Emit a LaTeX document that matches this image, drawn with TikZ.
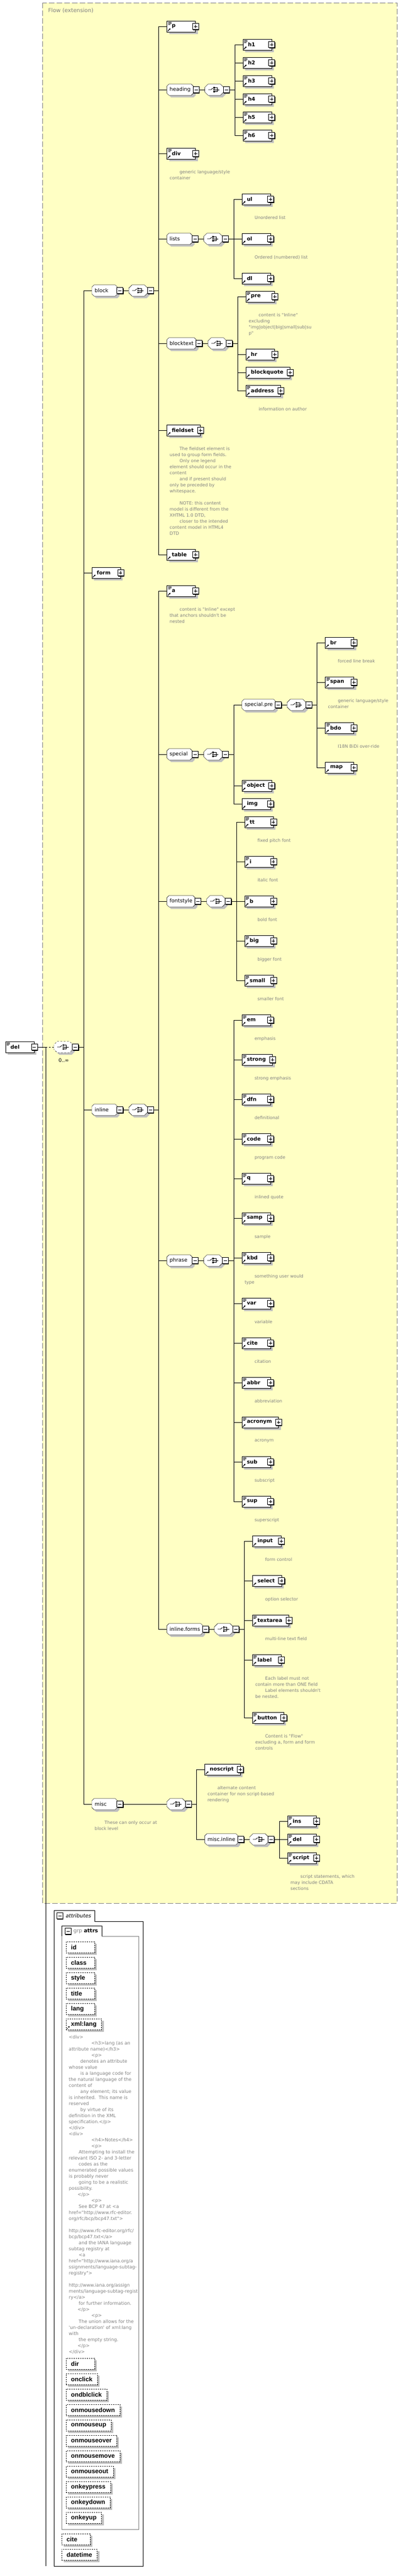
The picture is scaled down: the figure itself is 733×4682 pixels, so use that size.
\documentclass[tikz,border=0pt]{standalone}
\usepackage{fontspec}
\usetikzlibrary{positioning,shadows,arrows.meta}
\newfontfamily\vfont{DejaVu Sans}
\newfontfamily\afont{Liberation Sans}
\definecolor{flowbg}{RGB}{255,255,196}
\definecolor{shadowgray}{RGB}{192,192,192}
\definecolor{notegray}{RGB}{128,128,128}
\pgfdeclarelayer{frame}
\pgfdeclarelayer{octs}
\pgfsetlayers{frame,octs,main}

% text with a minimum width, set flush left
\newcommand\etext[2]{\setbox0\hbox{#2}\ifdim\wd0<#1\hbox to #1{\box0\hfil}\else\box0\fi}
% small icons inside element boxes
\newcommand\refpic{\draw[-{Triangle[length=2.5pt,width=3pt]},line width=1.1pt] ([shift={(1.5pt,1.5pt)}]path picture bounding box.south west) -- ++(5pt,5pt);}
\newcommand\mixpic{\draw[line width=0.7pt] ([shift={(2pt,-2.5pt)}]path picture bounding box.north west) -- ++(6pt,0pt) ++(-6pt,-2pt) -- ++(6pt,0pt) ++(-6pt,-2pt) -- ++(4pt,0pt);}
% octagon round a node: node, dx, dy, cut
\newcommand\octpath[4]{([shift={({#2+#4},{#3})}]#1.north west) -- ([shift={({#2-#4},{#3})}]#1.north east) -- ([shift={({#2},{#3-#4})}]#1.north east) -- ([shift={({#2},{#3+#4})}]#1.south east) -- ([shift={({#2-#4},{#3})}]#1.south east) -- ([shift={({#2+#4},{#3})}]#1.south west) -- ([shift={({#2},{#3+#4})}]#1.south west) -- ([shift={({#2},{#3-#4})}]#1.north west) -- cycle}
% choice symbol
\newcommand\chicon[1]{%
  \draw[line width=0.8pt] ([xshift=-11pt]#1.center) -- ([xshift=-6pt]#1.center) -- ([shift={(-2.5pt,3pt)}]#1.center);
  \foreach \d in {-4.75pt,-1.25pt,2.25pt}{\fill ([shift={(-1.5pt,\d)}]#1.center) rectangle ++(2.5pt,2.5pt);}
  \draw[line width=0.8pt] ([shift={(1pt,3.5pt)}]#1.center) -- ++(4.5pt,0pt) -- ++(0pt,-7pt) -- ++(-4.5pt,0pt) ([shift={(1pt,0pt)}]#1.center) -- ++(8.5pt,0pt);
}
% element: options, name, parent bus, y, label
\newcommand\elm[5][]{%
  \node[elem,#1,xshift=15pt] (#2) at (#3|-0,#4) {\kern9pt\etext{31pt}{#5}\kern12pt};
  \node[pbox] (#2-pm) at (#2.east) {};
  \draw (#3|-#2) -- (#2);
}
% group with its choice: gap, name, parent bus, y, label
\newcommand\grp[5][10pt]{%
  \node[grpnode,xshift=15pt] (#2) at (#3|-0,#4) {\etext{36pt}{#5}};
  \begin{pgfonlayer}{octs}
    \fill[shadowgray] \octpath{#2}{4pt}{-4pt}{4pt};
    \filldraw[fill=white] \octpath{#2}{0pt}{0pt}{4pt};
  \end{pgfonlayer}
  \node[mbox,anchor=west] (#2-pm) at ([xshift=-1pt]#2.east) {};
  \node[chnode,right=#1 of #2-pm] (#2-c) {};
  \begin{pgfonlayer}{octs}
    \fill[shadowgray] \octpath{#2-c}{4pt}{-4pt}{6pt};
    \filldraw[fill=white] \octpath{#2-c}{0pt}{0pt}{6pt};
  \end{pgfonlayer}
  \chicon{#2-c}
  \node[mbox,anchor=west] (#2-cm) at ([xshift=-1pt]#2-c.east) {};
  \coordinate (#2-bus) at ([xshift=9pt]#2-cm.east);
  \draw (#3|-#2) -- (#2);
  \draw (#2-pm) -- (#2-c) (#2-cm) -- (#2-bus);
}
% annotation under a node
\newcommand\anno[2]{\node[annot,below right=30.3pt and 5pt of #1.west] (#1-note) {#2};}

\tikzset{
  elem/.style={draw,fill=white,anchor=west,minimum height=20pt,inner sep=0pt,
    font=\vfont\bfseries\fontsize{9.4}{11}\selectfont,
    general shadow={fill=shadowgray,shadow xshift=4pt,shadow yshift=-4pt},
    path picture={\refpic}},
  mixed/.style={path picture={\refpic\mixpic}},
  rootel/.style={path picture={\mixpic}},
  pmbox/.style={draw,fill=white,minimum size=11pt,inner sep=0pt,line width=0.8pt,
    general shadow={fill=black,shadow xshift=1pt,shadow yshift=-1pt}},
  pbox/.style={pmbox,path picture={\draw[line width=0.8pt] ([xshift=2.5pt]path picture bounding box.west) -- ([xshift=-2.5pt]path picture bounding box.east) ([yshift=-2.5pt]path picture bounding box.north) -- ([yshift=2.5pt]path picture bounding box.south);}},
  mbox/.style={pmbox,path picture={\draw[line width=0.8pt] ([xshift=2.5pt]path picture bounding box.west) -- ([xshift=-2.5pt]path picture bounding box.east);}},
  grpnode/.style={anchor=west,minimum height=20pt,inner xsep=5pt,inner ysep=0pt,
    font=\vfont\fontsize{9.4}{11}\selectfont},
  chnode/.style={anchor=west,minimum height=20pt,minimum width=34pt,inner sep=0pt},
  annot/.style={align=left,inner sep=0pt,text=notegray,font=\vfont\fontsize{8}{11}\selectfont},
  doc/.style={annot,font=\vfont\fontsize{8.3}{11}\selectfont},
  attr/.style={draw,dash pattern=on 2pt off 2pt,fill=white,anchor=north west,minimum height=20pt,
    inner sep=0pt,font=\afont\bfseries\fontsize{11.3}{13}\selectfont,
    general shadow={fill=shadowgray,shadow xshift=4pt,shadow yshift=-4pt}},
}

\begin{document}
\begin{tikzpicture}[x=1pt,y=-1pt,line width=1pt]
\useasboundingbox (0,0) rectangle (733,4682);
\begin{pgfonlayer}{frame}
  \draw[notegray,fill=flowbg,dash pattern=on 10pt off 4pt] (77,5) rectangle (722,3459);
\end{pgfonlayer}
\node[anchor=west,text=notegray,font=\vfont\fontsize{10}{12}\selectfont] (flow-title) at (84,19) {Flow (extension)};

% root element
\node[elem,rootel] (del) at (10,1903) {\kern9pt\etext{31pt}{del}\kern12pt};
\node[mbox] (del-pm) at (del.east) {};
\coordinate (del-jn) at (83,1903);
\coordinate (attr-foot) at (83,4664);
\node[chnode] (del-c) at (98,1903) {};
\begin{pgfonlayer}{octs}
  \fill[shadowgray] \octpath{del-c}{4pt}{-4pt}{6pt};
  \filldraw[fill=white,dashed] \octpath{del-c}{0pt}{0pt}{6pt};
\end{pgfonlayer}
\chicon{del-c}
\node[mbox,anchor=west] (del-cm) at ([xshift=-1pt]del-c.east) {};
\node[font=\vfont\fontsize{9}{11}\selectfont] (del-occ) at (116,1927) {0..∞};
\coordinate (root-bus) at (152,1903);
\draw (del-pm) -- (del-jn) -- (attr-foot);
\draw[dashed] (del-jn) -- (del-c);
\draw (del-cm) -- (root-bus);

% level 1
\grp{block}{root-bus}{528}{block}
\elm{form}{root-bus}{1041}{form}
\grp{inline}{root-bus}{2017}{inline}
\grp[79pt]{misc}{root-bus}{3279}{misc}
\anno{misc}{\hspace*{18pt}These can only occur at\\block level}
\draw (root-bus|-block) -- (root-bus|-misc);

% block
\elm[mixed]{p}{block-bus}{48}{p}
\grp{heading}{block-bus}{163}{heading}
\foreach \k/\y in {1/81,2/114,3/147,4/180,5/213,6/246}
  {\elm[mixed]{h\k}{heading-bus}{\y}{h\k}}
\draw (heading-bus|-h1) -- (heading-bus|-h6);
\elm[mixed]{div}{block-bus}{279}{div}
\anno{div}{\hspace*{18pt}generic language/style\\container}
\grp{lists}{block-bus}{434}{lists}
\elm{ul}{lists-bus}{362}{ul}
\anno{ul}{\hspace*{18pt}Unordered list}
\elm{ol}{lists-bus}{434}{ol}
\anno{ol}{\hspace*{18pt}Ordered (numbered) list}
\elm{dl}{lists-bus}{506}{dl}
\draw (lists-bus|-ul) -- (lists-bus|-dl);
\grp{blocktext}{block-bus}{624}{blocktext}
\elm[mixed]{pre}{blocktext-bus}{539}{pre}
\anno{pre}{\hspace*{18pt}content is "Inline"\\excluding\\"img|object|big|small|sub|su\\p"}
\elm{hr}{blocktext-bus}{644}{hr}
\elm{blockquote}{blocktext-bus}{677}{blockquote}
\elm[mixed]{address}{blocktext-bus}{710}{address}
\anno{address}{\hspace*{18pt}information on author}
\draw (blocktext-bus|-pre) -- (blocktext-bus|-address);
\elm{fieldset}{block-bus}{782}{fieldset}
\anno{fieldset}{\hspace*{18pt}The fieldset element is\\used to group form fields.\\
  \hspace*{18pt}Only one legend\\element should occur in the\\content\\
  \hspace*{18pt}and if present should\\only be preceded by\\whitespace.\\\mbox{}\\
  \hspace*{18pt}NOTE: this content\\model is different from the\\XHTML 1.0 DTD,\\
  \hspace*{18pt}closer to the intended\\content model in HTML4\\DTD}
\elm{table}{block-bus}{1008}{table}
\draw (block-bus|-p) -- (block-bus|-table);

% inline
\elm[mixed]{a}{inline-bus}{1074}{a}
\anno{a}{\hspace*{18pt}content is "Inline" except\\that anchors shouldn't be\\nested}
\grp{special}{inline-bus}{1371}{special}
\grp{specialpre}{special-bus}{1281}{special.pre}
\elm{br}{specialpre-bus}{1168}{br}
\anno{br}{\hspace*{18pt}forced line break}
\elm[mixed]{span}{specialpre-bus}{1240}{span}
\anno{span}{\hspace*{18pt}generic language/style\\container}
\elm[mixed]{bdo}{specialpre-bus}{1323}{bdo}
\anno{bdo}{\hspace*{18pt}I18N BiDi over-ride}
\elm{map}{specialpre-bus}{1395}{map}
\draw (specialpre-bus|-br) -- (specialpre-bus|-map);
\elm[mixed]{object}{special-bus}{1428}{object}
\elm{img}{special-bus}{1461}{img}
\draw (special-bus|-specialpre) -- (special-bus|-img);
\grp{fontstyle}{inline-bus}{1638}{fontstyle}
\foreach \n/\y/\txt in {tt/1494/fixed pitch font,i/1566/italic font,b/1638/bold font,big/1710/bigger font,small/1782/smaller font}
  {\elm[mixed]{\n}{fontstyle-bus}{\y}{\n}\anno{\n}{\hspace*{18pt}\txt}}
\draw (fontstyle-bus|-tt) -- (fontstyle-bus|-small);
\grp{phrase}{inline-bus}{2291}{phrase}
\foreach \n/\y/\txt in {em/1854/emphasis,strong/1926/strong emphasis,dfn/1998/definitional,code/2070/program code,q/2142/inlined quote,samp/2214/sample,kbd/2286/{something user would\\type},var/2369/variable,cite/2441/citation,abbr/2513/abbreviation,acronym/2585/acronym,sub/2657/subscript,sup/2729/superscript}
  {\elm[mixed]{\n}{phrase-bus}{\y}{\n}\anno{\n}{\hspace*{18pt}\txt}}
\draw (phrase-bus|-em) -- (phrase-bus|-sup);
\grp{iforms}{inline-bus}{2961}{inline.forms}
\elm{input}{iforms-bus}{2801}{input}
\anno{input}{\hspace*{18pt}form control}
\elm{select}{iforms-bus}{2873}{select}
\anno{select}{\hspace*{18pt}option selector}
\elm[mixed]{textarea}{iforms-bus}{2945}{textarea}
\anno{textarea}{\hspace*{18pt}multi-line text field}
\elm[mixed]{label}{iforms-bus}{3017}{label}
\anno{label}{\hspace*{18pt}Each label must not\\contain more than ONE field\\\hspace*{18pt}Label elements shouldn't\\be nested.}
\elm[mixed]{button}{iforms-bus}{3122}{button}
\anno{button}{\hspace*{18pt}Content is "Flow"\\excluding a, form and form\\controls}
\draw (iforms-bus|-input) -- (iforms-bus|-button);
\draw (inline-bus|-a) -- (inline-bus|-iforms);

% misc
\elm{noscript}{misc-bus}{3216}{noscript}
\anno{noscript}{\hspace*{18pt}alternate content\\container for non script-based\\rendering}
\grp{miscinline}{misc-bus}{3343}{misc.inline}
\elm[mixed]{ins}{miscinline-bus}{3310}{ins}
\elm[mixed]{mi-del}{miscinline-bus}{3343}{del}
\elm[mixed]{script}{miscinline-bus}{3377}{script}
\anno{script}{\hspace*{18pt}script statements, which\\may include CDATA\\sections}
\draw (miscinline-bus|-ins) -- (miscinline-bus|-script);
\draw (misc-bus|-noscript) -- (misc-bus|-miscinline);

% attributes
\draw (98,4664) -- (98,3472) -- (172,3472) -- (172,3492) -- (260,3492) -- (260,4664) -- cycle;
\node[mbox] (attrs-m) at (108.5,3482) {};
\node[anchor=west,font=\vfont\itshape\fontsize{9.5}{11}\selectfont] (attrs-t) at (116,3482) {attributes};
\draw[notegray] (185,3519) -- (252,3519) -- (252,4597) -- (112,4597) -- (112,3519);
\draw (112,3519) -- (112,3500) -- (185,3500) -- (185,3519);
\node[mbox] (grp-m) at (123.5,3510) {};
\node[anchor=west,font=\vfont\fontsize{9.5}{11}\selectfont] (grp-t) at (130,3510) {\textcolor{notegray}{grp} \textbf{attrs}};
\foreach \n [count=\k from 0] in {id,class,style,title,lang}
  {\node[attr] (at-\n) at (120,{3529+28*\k}) {\kern9pt\etext{34pt}{\n}\kern9pt};}
\node[attr,path picture={\refpic}] (at-xmllang) at (120,3669) {\kern9pt\etext{34pt}{xml:lang}\kern9pt};
\node[doc,below right=19.7pt and 5pt of at-xmllang.west] (xmllang-doc) {<div>\\
\hspace*{41pt}<h3>lang (as an\\attribute name)</h3>\\
\hspace*{41pt}<p>\\
\hspace*{21pt}denotes an attribute\\whose value\\
\hspace*{21pt}is a language code for\\the natural language of the\\content of\\
\hspace*{21pt}any element; its value\\is inherited.\ \ This name is\\reserved\\
\hspace*{21pt}by virtue of its\\definition in the XML\\specification.</p>\\
</div>\\<div>\\
\hspace*{41pt}<h4>Notes</h4>\\
\hspace*{41pt}<p>\\
\hspace*{18pt}Attempting to install the\\relevant ISO 2- and 3-letter\\
\hspace*{18pt}codes as the\\enumerated possible values\\is probably never\\
\hspace*{18pt}going to be a realistic\\possibility.\\
\hspace*{16pt}</p>\\
\hspace*{41pt}<p>\\
\hspace*{18pt}See BCP 47 at <a\\href="http://www.rfc-editor.\\org/rfc/bcp/bcp47.txt">\\\mbox{}\\
http://www.rfc-editor.org/rfc/\\bcp/bcp47.txt</a>\\
\hspace*{18pt}and the IANA language\\subtag registry at\\
\hspace*{18pt}<a\\href="http://www.iana.org/a\\ssignments/language-subtag-\\registry">\\\mbox{}\\
http://www.iana.org/assign\\ments/language-subtag-regist\\ry</a>\\
\hspace*{18pt}for further information.\\
\hspace*{16pt}</p>\\
\hspace*{41pt}<p>\\
\hspace*{18pt}The union allows for the\\'un-declaration' of xml:lang\\with\\
\hspace*{18pt}the empty string.\\
\hspace*{16pt}</p>\\
</div>};
\foreach \n [count=\k from 0] in {dir,onclick,ondblclick,onmousedown,onmouseup,onmouseover,onmousemove,onmouseout,onkeypress,onkeydown,onkeyup}
  {\node[attr] (at-\n) at (120,{4286+28*\k}) {\kern9pt\etext{34pt}{\n}\kern9pt};}
\node[attr] (at-cite) at (112,4605) {\kern9pt\etext{34pt}{cite}\kern9pt};
\node[attr] (at-datetime) at (112,4633) {\kern9pt\etext{34pt}{datetime}\kern9pt};
\end{tikzpicture}
\end{document}
